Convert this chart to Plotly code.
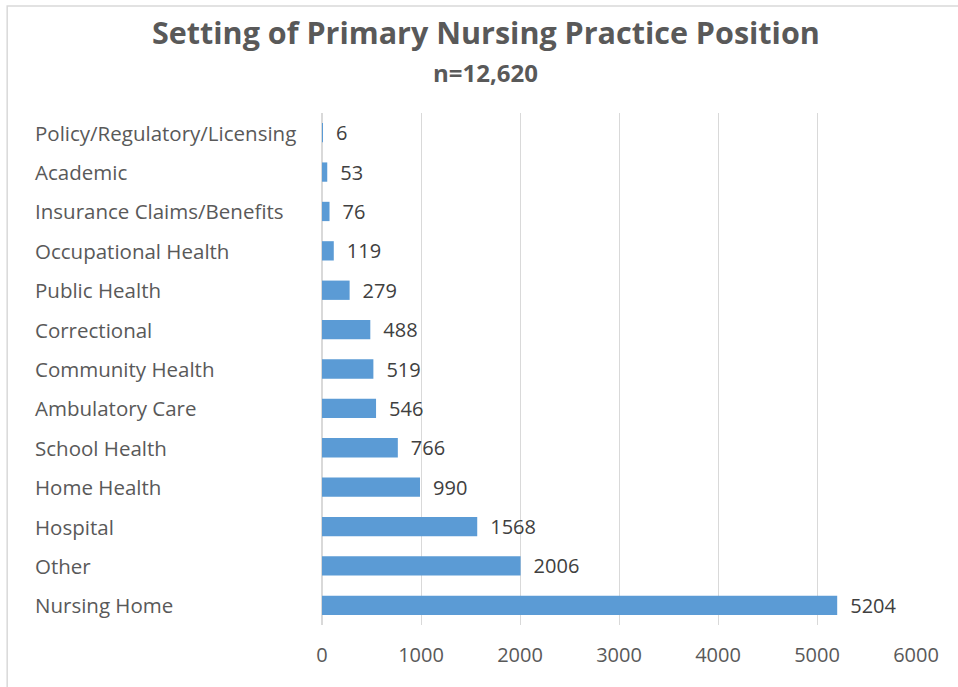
import plotly.graph_objects as go

categories = ["Policy/Regulatory/Licensing", "Academic", "Insurance Claims/Benefits",
              "Occupational Health", "Public Health", "Correctional", "Community Health",
              "Ambulatory Care", "School Health", "Home Health", "Hospital", "Other",
              "Nursing Home"]
values = [6, 53, 76, 119, 279, 488, 519, 546, 766, 990, 1568, 2006, 5204]
title_text = "Setting of Primary Nursing Practice Position"
subtitle_text = "n=12,620"
x_ticks = [0, 1000, 2000, 3000, 4000, 5000, 6000]

FONT = "Open Sans"
GREY = "#595959"

fig = go.Figure(go.Bar(
    y=categories, x=values, orientation="h",
    marker=dict(color="#5B9BD5", line=dict(width=0)),
    text=["\u2002" + str(v) for v in values], textposition="outside",
    textfont=dict(family=FONT, size=20, color="#404040"),
    constraintext="none", cliponaxis=False, width=0.49,
))

for c in categories:
    fig.add_annotation(x=-0.487, xref="paper", y=c, yref="y", text=c,
                       showarrow=False, xanchor="left",
                       font=dict(family=FONT, size=20.5, color=GREY))

fig.add_annotation(x=0.276, xref="paper", y=1.158, yref="paper", text=f"<b>{title_text}</b>",
                   showarrow=False, xanchor="center", yanchor="middle",
                   font=dict(family=FONT, size=30.5, color=GREY))
fig.add_annotation(x=0.276, xref="paper", y=1.080, yref="paper", text=f"<b>{subtitle_text}</b>",
                   showarrow=False, xanchor="center", yanchor="middle",
                   font=dict(family=FONT, size=24, color=GREY))

fig.update_layout(
    width=958, height=687,
    margin=dict(l=322, r=42, t=113, b=62),
    paper_bgcolor="white", plot_bgcolor="white",
    showlegend=False,
    xaxis=dict(range=[0, 6000], tickvals=x_ticks, ticktext=[str(t) for t in x_ticks],
               showgrid=True, gridcolor="#D9D9D9", gridwidth=1, zeroline=True,
               zerolinecolor="#D9D9D9", showline=False, ticks="", ticklabelstandoff=16,
               tickfont=dict(family=FONT, size=20, color=GREY)),
    yaxis=dict(categoryorder="array", categoryarray=categories[::-1],
               showticklabels=False, showgrid=False, ticks="", showline=False),
    shapes=[dict(type="rect", xref="paper", yref="paper", x0=-0.530, x1=1.1, y0=-0.2, y1=1.209,
                 line=dict(color="#D9D9D9", width=1.5))],
)

fig.write_html("out.html", config={"displayModeBar": False},
               post_script="document.body.style.margin='0';document.body.style.overflow='hidden';")
